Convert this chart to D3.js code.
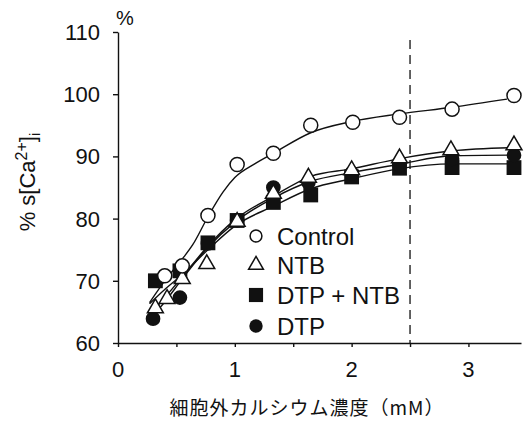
<!DOCTYPE html>
<html>
<head>
<meta charset="utf-8">
<script src="https://cdn.jsdelivr.net/npm/d3@7"></script>
<style>
  body { margin: 0; background: #fff; }
  text { font-family: "Liberation Sans", Arial, sans-serif; fill: #111; }
</style>
</head>
<body>
<div id="vis"></div>
<script>
// measured points [mM, %]
const control = [[0.40, 70.8], [0.55, 72.4], [0.77, 80.5], [1.02, 88.7], [1.33, 90.5],
  [1.65, 95.0], [2.01, 95.5], [2.41, 96.3], [2.86, 97.6], [3.39, 99.8]];
const ntb = [[0.32, 65.6], [0.42, 67.1], [0.55, 70.3], [0.76, 72.7], [1.02, 79.5],
  [1.33, 84.0], [1.63, 86.6], [2.0, 87.8], [2.41, 89.7], [2.85, 91.0], [3.39, 91.8]];
const dtpNtb = [[0.32, 70.0], [0.53, 71.6], [0.77, 76.1], [1.02, 79.7], [1.33, 82.6],
  [1.65, 83.8], [2.0, 86.7], [2.41, 88.1], [2.86, 88.2], [3.39, 88.2]];
const dtp = [[0.30, 63.9], [0.53, 67.3], [0.77, 76.0], [1.02, 79.7], [1.33, 85.0],
  [1.63, 85.8], [2.0, 87.3], [2.41, 88.6], [2.86, 89.6], [3.39, 90.2]];

// fitted curves
const controlFit = [[0.27, 66.5], [0.4, 70.0], [0.55, 73.5], [0.64, 75.8], [0.77, 80.3],
  [0.9, 84.3], [1.0, 86.6], [1.17, 88.8], [1.33, 90.5], [1.65, 93.8], [2.0, 95.6],
  [2.4, 96.8], [2.86, 97.9], [3.33, 99.2]];
const ntbFit = [[0.27, 64.5], [0.4, 67.3], [0.55, 70.6], [0.77, 75.6], [1.0, 79.8],
  [1.33, 83.6], [1.65, 86.8], [2.0, 88.0], [2.4, 89.6], [2.86, 90.9], [3.35, 91.4]];
const dtpFit = [[0.27, 63.8], [0.4, 66.6], [0.55, 70.3], [0.77, 75.4], [1.0, 79.4],
  [1.33, 83.3], [1.65, 86.0], [2.0, 87.4], [2.4, 88.7], [2.86, 90.1], [3.35, 90.2]];
const dtpNtbFit = [[0.27, 66.3], [0.4, 68.6], [0.55, 71.0], [0.77, 75.0], [1.0, 78.8],
  [1.33, 82.0], [1.65, 84.8], [2.0, 86.4], [2.4, 88.0], [2.86, 88.8], [3.35, 88.8]];

const yTicks = [60, 70, 80, 90, 100, 110];
const xTicks = [0, 0.5, 1, 1.5, 2, 2.5, 3];
const xLabelTicks = [0, 1, 2, 3];
const legendNames = ['Control', 'NTB', 'DTP + NTB', 'DTP'];

const width = 527, height = 424;

const svg = d3.select('#vis')
  .append('svg')
  .attr('width', width)
  .attr('height', height);

const x = d3.scaleLinear().domain([0, 3.45]).range([118, 521]);
const y = d3.scaleLinear().domain([60, 110]).range([343, 32]);

// axes
svg.append('g')
  .attr('transform', `translate(0,${y(60)})`)
  .call(d3.axisBottom(x).tickValues(xTicks).tickSize(4).tickSizeOuter(0).tickFormat(''))
  .call(g => g.selectAll('path, line').attr('stroke', '#111').attr('stroke-width', 1.4));

svg.append('g')
  .attr('transform', `translate(${x(0)},0)`)
  .call(d3.axisLeft(y).tickValues(yTicks).tickSize(5).tickSizeOuter(0).tickFormat(''))
  .call(g => g.selectAll('path, line').attr('stroke', '#111').attr('stroke-width', 1.4));

svg.selectAll('.xlab')
  .data(xLabelTicks)
  .enter().append('text')
  .attr('x', d => x(d))
  .attr('y', 377)
  .attr('text-anchor', 'middle')
  .style('font-size', '22px')
  .text(d => d);

svg.selectAll('.ylab')
  .data(yTicks)
  .enter().append('text')
  .attr('x', 100)
  .attr('y', d => y(d) + 8)
  .attr('text-anchor', 'end')
  .style('font-size', '22px')
  .text(d => d);

svg.append('text')
  .attr('x', 125)
  .attr('y', 25)
  .attr('text-anchor', 'middle')
  .style('font-size', '20px')
  .text('%');

// y title
const yt = svg.append('text')
  .attr('transform', 'translate(35,182) rotate(-90)')
  .attr('text-anchor', 'middle')
  .style('font-size', '22px');
yt.append('tspan').text('% s[Ca');
yt.append('tspan').attr('dy', -8).style('font-size', '16px').text('2+');
yt.append('tspan').attr('dy', 8).text(']');
yt.append('tspan').attr('dy', 5).style('font-size', '15px').text('i');

svg.append('text')
  .attr('x', 307)
  .attr('y', 415)
  .attr('text-anchor', 'middle')
  .style('font-family', '"Noto Sans CJK JP", sans-serif')
  .style('font-size', '19px')
  .style('letter-spacing', '1px')
  .text('細胞外カルシウム濃度（mM）');

// dashed line at 2.5 mM
svg.append('line')
  .attr('x1', x(2.5)).attr('x2', x(2.5))
  .attr('y1', 40).attr('y2', y(60))
  .attr('stroke', '#111')
  .attr('stroke-width', 1.3)
  .attr('stroke-dasharray', '9,6');

// fitted curves
const line = d3.line()
  .x(d => x(d[0]))
  .y(d => y(d[1]))
  .curve(d3.curveMonotoneX);

[controlFit, ntbFit, dtpFit, dtpNtbFit].forEach(f => {
  svg.append('path')
    .datum(f)
    .attr('d', line)
    .attr('fill', 'none')
    .attr('stroke', '#111')
    .attr('stroke-width', 1.4);
});

// markers
const sym = {
  circle: d3.symbol().type(d3.symbolCircle),
  square: d3.symbol().type(d3.symbolSquare),
  triangle: d3.symbol().type(d3.symbolTriangle)
};

function drawMarkers(data, kind, filled, size) {
  svg.append('g').selectAll('path')
    .data(data)
    .enter().append('path')
    .attr('transform', d => `translate(${x(d[0])},${y(d[1])})`)
    .attr('d', sym[kind].size(size))
    .attr('fill', filled ? '#111' : '#fff')
    .attr('stroke', '#111')
    .attr('stroke-width', filled ? 0 : 1.5);
}

drawMarkers(dtpNtb, 'square', true, 220);
drawMarkers(dtp, 'circle', true, 170);
drawMarkers(ntb, 'triangle', false, 110);
drawMarkers(control, 'circle', false, 155);

// legend
const legendRows = [
  {name: legendNames[0], kind: 'circle', filled: false, size: 110, ty: 236},
  {name: legendNames[1], kind: 'triangle', filled: false, size: 95, ty: 265},
  {name: legendNames[2], kind: 'square', filled: true, size: 200, ty: 295},
  {name: legendNames[3], kind: 'circle', filled: true, size: 140, ty: 326}
];

const lg = svg.append('g').selectAll('g')
  .data(legendRows)
  .enter().append('g')
  .attr('transform', d => `translate(0,${d.ty})`);

lg.append('path')
  .attr('transform', 'translate(256,0)')
  .attr('d', d => sym[d.kind].size(d.size)())
  .attr('fill', d => d.filled ? '#111' : '#fff')
  .attr('stroke', '#111')
  .attr('stroke-width', d => d.filled ? 0 : 1.5);

lg.append('text')
  .attr('x', 277)
  .attr('y', 9)
  .style('font-size', '24px')
  .text(d => d.name);
</script>
</body>
</html>
